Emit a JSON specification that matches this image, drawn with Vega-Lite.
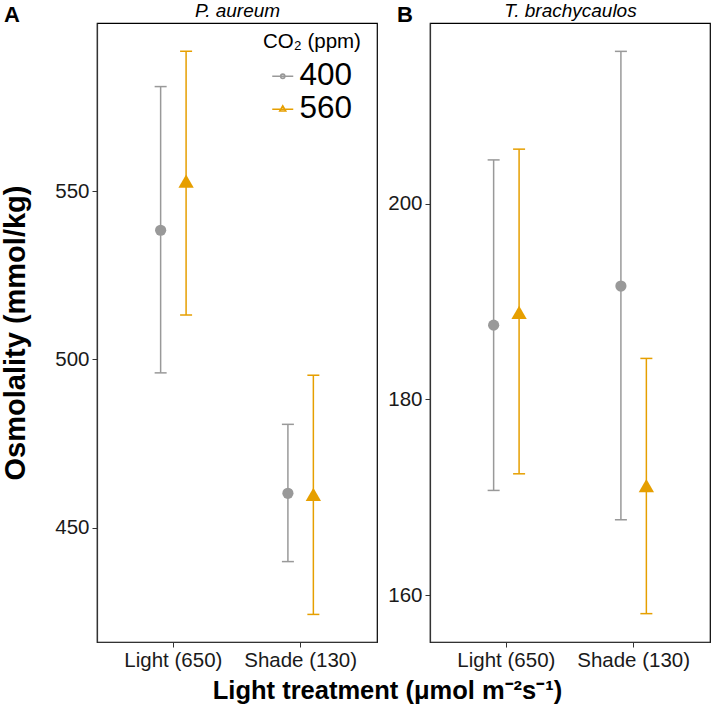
{
  "$schema": "https://vega.github.io/schema/vega-lite/v6.json",
  "background": "white",
  "padding": {"left": 1, "top": 0, "right": 3, "bottom": 5},
  "bounds": "flush",
  "spacing": 53,
  "data": {"values": [
    {"species": "P. aureum", "light": "Light (650)", "co2": "400", "mean": 538.4, "lo": 496.0, "hi": 581.1},
    {"species": "P. aureum", "light": "Light (650)", "co2": "560", "mean": 553.0, "lo": 513.2, "hi": 591.6},
    {"species": "P. aureum", "light": "Shade (130)", "co2": "400", "mean": 460.2, "lo": 439.9, "hi": 480.7},
    {"species": "P. aureum", "light": "Shade (130)", "co2": "560", "mean": 459.9, "lo": 424.2, "hi": 495.3},
    {"species": "T. brachycaulos", "light": "Light (650)", "co2": "400", "mean": 187.6, "lo": 170.7, "hi": 204.5},
    {"species": "T. brachycaulos", "light": "Light (650)", "co2": "560", "mean": 188.9, "lo": 172.4, "hi": 205.6},
    {"species": "T. brachycaulos", "light": "Shade (130)", "co2": "400", "mean": 191.6, "lo": 167.7, "hi": 215.6},
    {"species": "T. brachycaulos", "light": "Shade (130)", "co2": "560", "mean": 171.2, "lo": 158.1, "hi": 184.2}
  ]},
  "config": {
    "font": "Liberation Sans",
    "view": {"stroke": "#000", "strokeWidth": 1.2},
    "axis": {"grid": false, "domainColor": "#333", "domainWidth": 1.2, "tickColor": "#333", "tickWidth": 1, "tickSize": 5,
             "labelColor": "#1a1a1a", "labelFont": "Liberation Sans", "labelFontSize": 20.5, "labelPadding": 3,
             "titleFont": "Liberation Sans", "titleColor": "#000"},
    "title": {"font": "Liberation Sans", "color": "#000"}
  },
  "resolve": {"scale": {"x": "independent", "y": "independent", "color": "independent", "shape": "independent", "size": "independent", "xOffset": "independent"}},
  "hconcat": [
    {
      "width": 280, "height": 619,
      "transform": [{"filter": "datum.species === 'P. aureum'"}],
      "title": {"text": "A", "anchor": "start", "frame": "group", "dx": -93, "dy": 26, "fontSize": 22, "fontWeight": "bold", "offset": 0},
      "resolve": {"axis": {"x": "independent"}, "scale": {"color": "independent", "shape": "independent"}},
      "layer": [
        {
          "mark": {"type": "rule", "strokeWidth": 1.5},
          "encoding": {
            "x": {"field": "light", "type": "nominal", "sort": ["Light (650)", "Shade (130)"], "scale": {"paddingInner": 0.6, "paddingOuter": 0.4},
                  "axis": {"orient": "bottom", "labelAngle": 0, "title": "Light treatment (μmol m⁻²s⁻¹)", "titleX": 290, "titleAlign": "center", "titleFontSize": 25.5, "titleFontWeight": "bold", "titlePadding": 8}},
            "xOffset": {"field": "co2", "type": "nominal", "scale": {"paddingInner": 0, "paddingOuter": 0}},
            "y": {"field": "lo", "type": "quantitative", "scale": {"domain": [416, 600], "nice": false, "zero": false},
                  "axis": {"values": [450, 500, 550], "title": "Osmolality (mmol/kg)", "titleFontSize": 29, "titleFontWeight": "bold", "titlePadding": 24}},
            "y2": {"field": "hi"},
            "color": {"field": "co2", "type": "nominal", "scale": {"domain": ["400", "560"], "range": ["#999999", "#E69F00"]}, "legend": null}
          }
        },
        {
          "mark": {"type": "tick", "size": 12, "thickness": 1.5, "opacity": 1},
          "encoding": {
            "x": {"field": "light", "type": "nominal", "sort": ["Light (650)", "Shade (130)"], "axis": null},
            "xOffset": {"field": "co2", "type": "nominal"},
            "y": {"field": "lo", "type": "quantitative", "axis": {"values": [450, 500, 550], "title": "Osmolality (mmol/kg)", "titleFontSize": 29, "titleFontWeight": "bold", "titlePadding": 24}},
            "color": {"field": "co2", "type": "nominal", "scale": {"domain": ["400", "560"], "range": ["#999999", "#E69F00"]}, "legend": null}
          }
        },
        {
          "mark": {"type": "tick", "size": 12, "thickness": 1.5, "opacity": 1},
          "encoding": {
            "x": {"field": "light", "type": "nominal", "sort": ["Light (650)", "Shade (130)"], "axis": null},
            "xOffset": {"field": "co2", "type": "nominal"},
            "y": {"field": "hi", "type": "quantitative", "axis": {"values": [450, 500, 550], "title": "Osmolality (mmol/kg)", "titleFontSize": 29, "titleFontWeight": "bold", "titlePadding": 24}},
            "color": {"field": "co2", "type": "nominal", "scale": {"domain": ["400", "560"], "range": ["#999999", "#E69F00"]}, "legend": null}
          }
        },
        {
          "mark": {"type": "point", "filled": true, "opacity": 1},
          "encoding": {
            "x": {"field": "light", "type": "nominal", "sort": ["Light (650)", "Shade (130)"],
                  "axis": {"orient": "top", "title": "P. aureum", "labels": false, "ticks": false, "domain": false, "titleFontStyle": "italic", "titleFontWeight": "normal", "titleFontSize": 19, "titlePadding": 3}},
            "xOffset": {"field": "co2", "type": "nominal"},
            "y": {"field": "mean", "type": "quantitative", "axis": {"values": [450, 500, 550], "title": "Osmolality (mmol/kg)", "titleFontSize": 29, "titleFontWeight": "bold", "titlePadding": 24}},
            "color": {"field": "co2", "type": "nominal", "scale": {"domain": ["400", "560"], "range": ["#999999", "#E69F00"]}, "legend": null},
            "shape": {"field": "co2", "type": "nominal", "scale": {"domain": ["400", "560"], "range": ["circle", "triangle-up"]}, "legend": null},
            "size": {"field": "co2", "type": "nominal", "scale": {"domain": ["400", "560"], "range": [125, 235]}, "legend": null}
          }
        },
        {
          "mark": {"type": "point", "filled": false, "opacity": 0},
          "encoding": {
            "x": {"field": "light", "type": "nominal", "sort": ["Light (650)", "Shade (130)"], "axis": null},
            "xOffset": {"field": "co2", "type": "nominal"},
            "y": {"field": "mean", "type": "quantitative", "axis": {"values": [450, 500, 550], "title": "Osmolality (mmol/kg)", "titleFontSize": 29, "titleFontWeight": "bold", "titlePadding": 24}},
            "color": {"field": "co2", "type": "nominal", "scale": {"domain": ["400", "560"], "range": ["#999999", "#E69F00"]},
                      "legend": {"title": "CO₂ (ppm)", "orient": "none", "legendX": 166, "legendY": 9, "padding": 0,
                                 "titleFontSize": 20.5, "titleFontWeight": "normal", "titleColor": "#000", "titlePadding": 8,
                                 "labelFontSize": 31.5, "labelColor": "#000", "labelOffset": 1, "symbolSize": 441, "symbolOffset": 4, "rowPadding": 0,
                                 "symbolOpacity": 1, "symbolStrokeWidth": 1.6}},
            "shape": {"field": "co2", "type": "nominal",
                      "scale": {"domain": ["400", "560"], "range": ["M-1,0L1,0M-0.2,0A0.2,0.2,0,1,0,0.2,0A0.2,0.2,0,1,0,-0.2,0Z", "M-1,0L1,0M-0.28,0.16L0,-0.32L0.28,0.16Z"]},
                      "legend": {"title": "CO₂ (ppm)", "orient": "none", "legendX": 166, "legendY": 9, "padding": 0,
                                 "titleFontSize": 20.5, "titleFontWeight": "normal", "titleColor": "#000", "titlePadding": 8,
                                 "labelFontSize": 31.5, "labelColor": "#000", "labelOffset": 1, "symbolSize": 441, "symbolOffset": 4, "rowPadding": 0,
                                 "symbolOpacity": 1, "symbolStrokeWidth": 1.6}}
          }
        }
      ]
    },
    {
      "width": 280, "height": 619,
      "transform": [{"filter": "datum.species === 'T. brachycaulos'"}],
      "title": {"text": "B", "anchor": "start", "frame": "group", "dx": -33, "dy": 26, "fontSize": 22, "fontWeight": "bold", "offset": 0},
      "resolve": {"axis": {"x": "independent"}},
      "layer": [
        {
          "mark": {"type": "rule", "strokeWidth": 1.5},
          "encoding": {
            "x": {"field": "light", "type": "nominal", "sort": ["Light (650)", "Shade (130)"], "scale": {"paddingInner": 0.6, "paddingOuter": 0.4},
                  "axis": {"orient": "bottom", "labelAngle": 0, "title": null}},
            "xOffset": {"field": "co2", "type": "nominal", "scale": {"paddingInner": 0, "paddingOuter": 0}},
            "y": {"field": "lo", "type": "quantitative", "scale": {"domain": [155.2, 218.5], "nice": false, "zero": false},
                  "axis": {"values": [160, 180, 200], "title": null}},
            "y2": {"field": "hi"},
            "color": {"field": "co2", "type": "nominal", "scale": {"domain": ["400", "560"], "range": ["#999999", "#E69F00"]}, "legend": null}
          }
        },
        {
          "mark": {"type": "tick", "size": 12, "thickness": 1.5, "opacity": 1},
          "encoding": {
            "x": {"field": "light", "type": "nominal", "sort": ["Light (650)", "Shade (130)"], "axis": null},
            "xOffset": {"field": "co2", "type": "nominal"},
            "y": {"field": "lo", "type": "quantitative", "axis": {"values": [160, 180, 200], "title": null}},
            "color": {"field": "co2", "type": "nominal", "legend": null}
          }
        },
        {
          "mark": {"type": "tick", "size": 12, "thickness": 1.5, "opacity": 1},
          "encoding": {
            "x": {"field": "light", "type": "nominal", "sort": ["Light (650)", "Shade (130)"], "axis": null},
            "xOffset": {"field": "co2", "type": "nominal"},
            "y": {"field": "hi", "type": "quantitative", "axis": {"values": [160, 180, 200], "title": null}},
            "color": {"field": "co2", "type": "nominal", "legend": null}
          }
        },
        {
          "mark": {"type": "point", "filled": true, "opacity": 1},
          "encoding": {
            "x": {"field": "light", "type": "nominal", "sort": ["Light (650)", "Shade (130)"],
                  "axis": {"orient": "top", "title": "T. brachycaulos", "labels": false, "ticks": false, "domain": false, "titleFontStyle": "italic", "titleFontWeight": "normal", "titleFontSize": 19, "titlePadding": 3}},
            "xOffset": {"field": "co2", "type": "nominal"},
            "y": {"field": "mean", "type": "quantitative", "axis": {"values": [160, 180, 200], "title": null}},
            "color": {"field": "co2", "type": "nominal", "legend": null},
            "shape": {"field": "co2", "type": "nominal", "scale": {"domain": ["400", "560"], "range": ["circle", "triangle-up"]}, "legend": null},
            "size": {"field": "co2", "type": "nominal", "scale": {"domain": ["400", "560"], "range": [125, 235]}, "legend": null}
          }
        }
      ]
    }
  ]
}
